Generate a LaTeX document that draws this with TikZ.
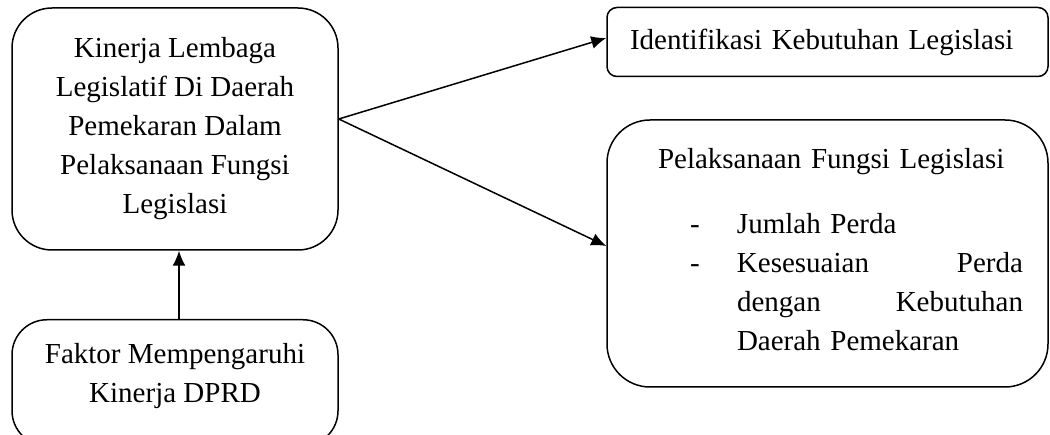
\documentclass[tikz,border=0pt]{standalone}
\usepackage{fontspec}
\setmainfont{Liberation Serif}
\usetikzlibrary{arrows.meta}

\begin{document}
\begin{tikzpicture}[x=1pt,y=-1pt,>={Latex[length=15pt,width=13pt]},
  every node/.style={font=\fontsize{29pt}{39pt}\selectfont},
  kotak/.style={draw,line width=1.5pt,rounded corners=#1,minimum width=326pt,align=center,inner sep=0pt},
  kotak/.default=40pt]
  \clip (0,0) rectangle (1050,435);
  \node[kotak=40pt,minimum height=242pt] (K) at (175,129){Kinerja Lembaga\\Legislatif Di Daerah\\Pemekaran Dalam\\Pelaksanaan Fungsi\\Legislasi};
  \node[kotak=35pt,minimum height=126pt,anchor=north] (F) at (175,319){Faktor Mempengaruhi\\Kinerja DPRD\rule[-20pt]{0pt}{0pt}};
  \node[kotak=10pt,minimum width=441pt,minimum height=69pt,text width=395pt,align=left] (I) at (827.5,42){Identifikasi Kebutuhan Legislasi};
  \node[kotak=43pt,minimum width=441pt,minimum height=267pt,text width=441pt,align=left] (P) at (827.5,253.5){%
    \hspace*{51pt}Pelaksanaan Fungsi Legislasi\\[26pt]
    \hspace*{83pt}\makebox[47pt][l]{-}Jumlah Perda\\
    \hspace*{83pt}\makebox[47pt][l]{-}\makebox[286pt][l]{Kesesuaian\hfill Perda}\\
    \hspace*{130pt}\makebox[286pt][l]{dengan\hfill Kebutuhan}\\
    \hspace*{130pt}Daerah Pemekaran\rule[-9pt]{0pt}{0pt}};
  \coordinate (s) at ([yshift=10pt]K.east);
  \draw[->,line width=1.5pt] (s) -- ([yshift=4pt]I.west);
  \draw[->,line width=1.5pt] (s) -- ([yshift=7.5pt]P.west);
  \draw[->,line width=1.5pt] ([xshift=4pt]F.north) -- ([xshift=4pt]K.south);
\end{tikzpicture}
\end{document}
